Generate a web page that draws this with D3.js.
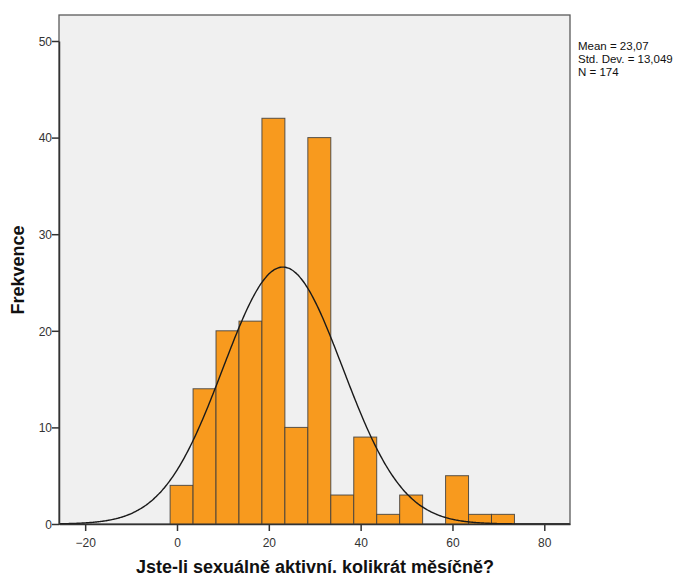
<!DOCTYPE html>
<html><head><meta charset="utf-8">
<script src="https://cdn.jsdelivr.net/npm/d3@7"></script>
<style>body{margin:0;background:#fff;}svg{display:block;font-family:"Liberation Sans",Arial,sans-serif;}</style>
</head><body>
<svg id="c" width="690" height="577"></svg>
<script>
const binStarts = [-1.5, 3.5, 8.5, 13.5, 18.5, 23.5, 28.5, 33.5, 38.5, 43.5, 48.5, 53.5, 58.5, 63.5, 68.5];
const binWidth = 5;
const counts = [4, 14, 20, 21, 42, 10, 40, 3, 9, 1, 3, 0, 5, 1, 1];
const xTicks = [-20, 0, 20, 40, 60, 80];
const yTicks = [0, 10, 20, 30, 40, 50];
const stats = ["Mean = 23,07", "Std. Dev. = 13,049", "N = 174"];
const mean = 23.07, sd = 13.049, N = 174;
const xTitle = "Jste-li sexuálně aktivní. kolikrát měsíčně?";
const yTitle = "Frekvence";

const svg = d3.select("#c");
const L = 59, R = 570, T = 15, B = 524;
const x = d3.scaleLinear().domain([-25.7, 85.6]).range([L, R]);
const y = d3.scaleLinear().domain([0, 50]).range([B, 41]);

svg.append("rect").attr("x", L).attr("y", T).attr("width", R - L).attr("height", B - T)
  .attr("fill", "#f0f0f0").attr("stroke", "#5a5a5a").attr("stroke-width", 1.3);

const bars = binStarts.map((s, i) => ({s, c: counts[i]})).filter(d => d.c > 0);
svg.append("g").selectAll("rect").data(bars).join("rect")
  .attr("x", d => x(d.s)).attr("width", d => x(d.s + binWidth) - x(d.s))
  .attr("y", d => y(d.c)).attr("height", d => y(0) - y(d.c))
  .attr("fill", "#f89a1e").attr("stroke", "#3c3c3c").attr("stroke-opacity", 0.85).attr("stroke-width", 1);

// normal curve
const pts = d3.range(-25.7, 85.6, 0.25).map(v => [v, N * binWidth / (sd * Math.sqrt(2 * Math.PI)) * Math.exp(-0.5 * ((v - mean) / sd) ** 2)]);
svg.append("path").datum(pts).attr("fill", "none").attr("stroke", "#1a1a1a").attr("stroke-width", 1.4)
  .attr("d", d3.line().x(d => x(d[0])).y(d => y(d[1])).curve(d3.curveBasis));

// axes
const xa = svg.append("g").attr("transform", `translate(0,${B})`)
  .call(d3.axisBottom(x).tickValues(xTicks).tickSize(7).tickSizeOuter(0).tickFormat(d3.format("d")));
const ya = svg.append("g").attr("transform", `translate(${L},0)`)
  .call(d3.axisLeft(y).tickValues(yTicks).tickSize(7).tickSizeOuter(0).tickFormat(d3.format("d")));
[xa, ya].forEach(a => {
  a.select(".domain").attr("stroke", "#333").attr("stroke-width", 1.5);
  a.selectAll(".tick line").attr("stroke", "#333").attr("stroke-width", 1.5);
  a.selectAll(".tick text").attr("fill", "#333").attr("font-size", 12).attr("font-family", "Liberation Sans, Arial, sans-serif");
});
xa.selectAll(".tick text").attr("dy", "1.05em");
ya.selectAll(".tick text").attr("x", -7).attr("dy", "0.36em");

svg.append("text").attr("x", 315).attr("y", 573).attr("text-anchor", "middle")
  .attr("font-size", 18).attr("font-weight", "bold").attr("fill", "#111").text(xTitle);
svg.append("text").attr("transform", "translate(24,270) rotate(-90)").attr("text-anchor", "middle")
  .attr("font-size", 18).attr("font-weight", "bold").attr("fill", "#111").text(yTitle);

svg.append("g").selectAll("text").data(stats).join("text")
  .attr("x", 578).attr("y", (d, i) => 50 + i * 13)
  .attr("font-size", 11.5).attr("fill", "#111").text(d => d);
</script>
</body></html>
